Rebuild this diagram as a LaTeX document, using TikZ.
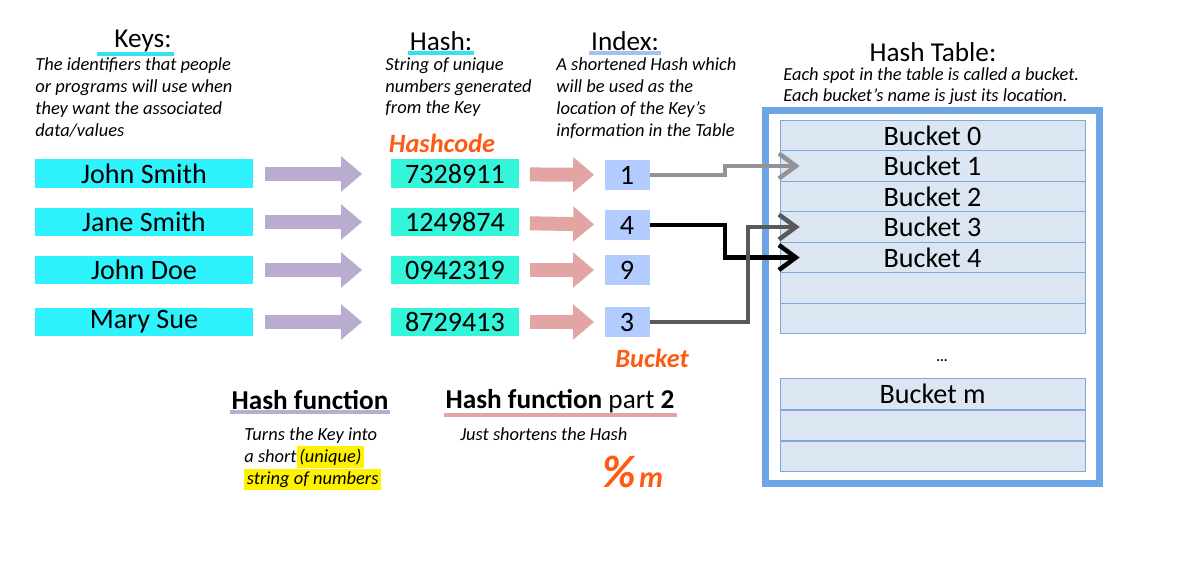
\documentclass[tikz,border=0pt]{standalone}
\usepackage{fontspec}
\setmainfont{Carlito}
\usetikzlibrary{arrows.meta, positioning, calc}
\definecolor{ckey}{HTML}{2EF2FC}
\definecolor{chash}{HTML}{33F5DA}
\definecolor{cindex}{HTML}{B3CCFF}
\definecolor{cpurple}{HTML}{B9ACCF}
\definecolor{cpink}{HTML}{E2A5A3}
\definecolor{ccyanline}{HTML}{33E3F2}
\definecolor{cindexline}{HTML}{A6C0EE}
\definecolor{corange}{HTML}{FF5A14}
\definecolor{cbucket}{HTML}{DCE6F2}
\definecolor{cbucketline}{HTML}{7FA7D8}
\definecolor{cframe}{HTML}{6CA6E6}
\definecolor{chigh}{HTML}{FFF200}

\begin{document}
\begin{tikzpicture}[x=0.02cm, y=-0.02cm,
  title/.style={font=\fontsize{15.5}{17}\selectfont, inner sep=1pt},
  desc/.style={font=\fontsize{10.5}{12.5}\selectfont\itshape, align=left, anchor=north west, inner sep=0pt},
  keybox/.style={fill=ckey, minimum width=4.36cm, minimum height=0.58cm, inner sep=0pt, font=\fontsize{16}{18}\selectfont},
  hashbox/.style={keybox, fill=chash, minimum width=2.58cm},
  idxbox/.style={keybox, fill=cindex, minimum width=0.9cm, minimum height=0.6cm},
  bucket/.style={draw=cbucketline, fill=cbucket, minimum width=6.1cm, minimum height=0.61cm, inner sep=0pt, font=\fontsize{16}{18}\selectfont},
  fatarr/.style={line width=0.28cm, -{Triangle[length=0.42cm, width=0.68cm]}, shorten <=0.24cm, shorten >=0.56cm},
  link/.style={line width=0.09cm, -{Straight Barb[length=0.34cm, width=0.5cm]}},
  uline/.style={line width=0.08cm},
  scribble/.style={text=corange, font=\fontsize{15}{17}\selectfont\bfseries\itshape}
]
\useasboundingbox (0,0) rectangle (1186,567);

  % Titles
  \node[title] (keys) at (143,41) {Keys:};
  \node[title] (hash) at (441,41) {Hash:};
  \node[title] (index) at (625,41) {Index:};
  \node[title] (table) at (933,52) {Hash Table:};
  \draw[uline, ccyanline] ([xshift=-0.3cm]keys.south west) -- (keys.south east);
  \draw[uline, ccyanline] (hash.south west) -- (hash.south east);
  \draw[uline, cindexline] (index.south west) -- (index.south east);

  % Descriptions
  \node[desc] (keysdesc) at (35,57) {The identifiers that people\\or programs will use when\\they want the associated\\data/values};
  \node[desc] (hashdesc) at (385,57) {String of unique\\numbers generated\\from the Key};
  \node[desc] (idxdesc) at (556,57) {A shortened Hash which\\will be used as the\\location of the Key's\\information in the Table};
  \node[desc, font=\fontsize{10.5}{12}\selectfont\itshape] (tabledesc) at (783,67) {Each spot in the table is called a bucket.\\Each bucket's name is just its location.};

  % Keys, hashes and indices
  \node[keybox] (k1) at (144,174) {John Smith};
  \node[keybox] (k2) at (144,222) {Jane Smith};
  \node[keybox] (k3) at (144,270) {John Doe};
  \node[keybox] (k4) at (144,322) {Mary Sue};
  \node[hashbox] (h1) at (455,174) {7328911};
  \node[hashbox] (h2) at (455,222) {1249874};
  \node[hashbox] (h3) at (455,270) {0942319};
  \node[hashbox] (h4) at (455,322) {8729413};
  \node[idxbox] (i1) at (627,175) {1};
  \node[idxbox] (i2) at (627,225) {4};
  \node[idxbox] (i3) at (627,270) {9};
  \node[idxbox] (i4) at (627,322) {3};

  \foreach \n in {1,...,4} {
    \draw[fatarr, cpurple] (k\n) -- (h\n);
    \draw[fatarr, cpink, shorten <=0.2cm, shorten >=0.2cm] (h\n) -- (i\n);
  }

  % Handwritten notes
  \node[scribble] (hashcode) at (442,143) {Hashcode};
  \node[scribble] (bucketnote) at (652,358) {Bucket};
  \node[text=corange, font=\bfseries\itshape] (modm) at (633,472) {{\fontsize{26}{26}\selectfont\%}\,{\fontsize{17}{17}\selectfont m}};

  % Hash table
  \draw[cframe, line width=0.14cm] (765.5,111) rectangle (1099.5,483);
  \foreach \i/\t in {0/Bucket 0, 1/Bucket 1, 2/Bucket 2, 3/Bucket 3, 4/Bucket 4, 5/, 6/}
    \node[bucket] (b\i) at (932.5,{135.5+30.5*\i}) {\t};
  \node[font=\bfseries\footnotesize] (dots) at (942,361) {...};
  \node[bucket] (bm) at (932.5,394) {Bucket m};
  \node[bucket, below=0pt of bm] (bm1) {};
  \node[bucket, below=0pt of bm1] (bm2) {};

  % Index to bucket
  \draw[link, gray!85] (i1.east) -- ++(75,0) |- ([xshift=0.4cm]b1.west);
  \draw[link, black] (i2.east) -- ++(75,0) |- ([xshift=0.4cm]b4.west);
  \draw[link, black!65] (i4.east) -- ++(98,0) |- ([xshift=0.4cm]b3.west);

  % Hash functions
  \node[font=\fontsize{15.5}{17}\selectfont\bfseries, inner sep=1pt] (hf1) at (310,400) {Hash function};
  \node[font=\fontsize{15.5}{17}\selectfont, inner sep=1pt] (hf2) at (560,401) {\textbf{Hash function} part \textbf{2}};
  \draw[uline, cpurple] (hf1.south west) -- (hf1.south east);
  \draw[uline, cpink] (hf2.south west) -- (hf2.south east);
  \node[desc] (hf1desc) at (244,427) {Turns the Key into\\a short\setlength\fboxsep{1.5pt}\colorbox{chigh}{(unique)}\\\setlength\fboxsep{1.5pt}\colorbox{chigh}{string of numbers}};
  \node[desc] (hf2desc) at (460,427) {Just shortens the Hash};

\end{tikzpicture}
\end{document}
